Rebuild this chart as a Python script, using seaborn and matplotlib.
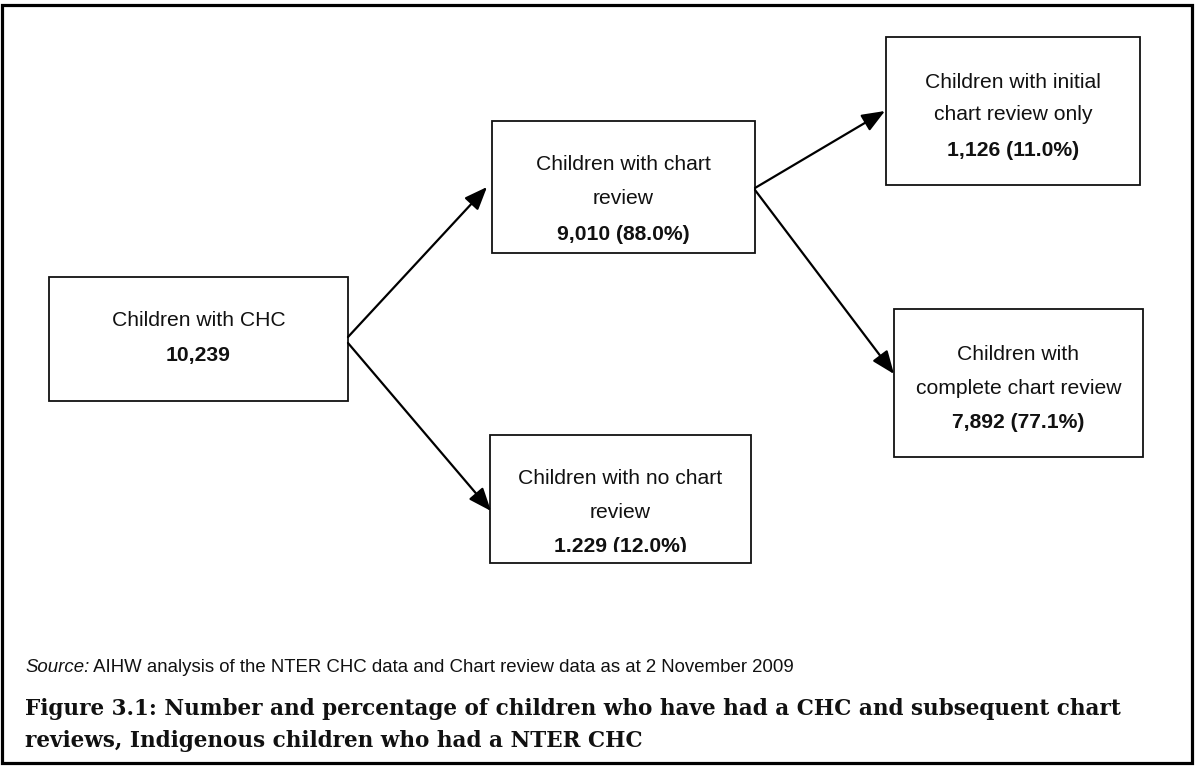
import matplotlib
matplotlib.use("Agg")
import matplotlib.pyplot as plt
import seaborn as sns
from matplotlib.patches import Rectangle
from matplotlib.transforms import Bbox, TransformedBbox

sns.set_theme(style="white")
plt.rcParams['font.family'] = ['Liberation Sans', 'DejaVu Sans']

# ---------------- data ----------------
node_titles = [
    "Children with CHC",
    "Children with chart\nreview",
    "Children with no chart\nreview",
    "Children with initial\nchart review only",
    "Children with\ncomplete chart review",
]
node_counts = ["10,239", "9,010", "1.229", "1,126", "7,892"]
node_pcts = [None, "88.0%", "12.0%", "11.0%", "77.1%"]
edges = [(0, 1), (0, 2), (1, 3), (1, 4)]
source_label = "Source:"
source_text = " AIHW analysis of the NTER CHC data and Chart review data as at 2 November 2009"
caption_lines = [
    "Figure 3.1: Number and percentage of children who have had a CHC and subsequent chart",
    "reviews, Indigenous children who had a NTER CHC",
]

# ---------------- layout (pixels) ----------------
W, H = 1195, 766
box_rects = [(49, 277, 348, 401), (492, 121, 755, 253), (490, 435, 751, 563),
             (886, 37, 1140, 185), (894, 309, 1143, 457)]
text_rows = [[319, 354], [163, 197, 232], [477, 511, 545], [80, 113, 148], [352, 386, 420]]
text_clip_bottom = [None, None, 552, None, None]
edge_points = [((348, 337), (487, 187)), ((348, 343), (491, 511)),
               ((755, 188), (885, 111)), ((755, 190), (894, 374))]

fig = plt.figure(figsize=(W / 100, H / 100), dpi=100)
ax = fig.add_axes([0, 0, 1, 1])
ax.set_xlim(0, W)
ax.set_ylim(H, 0)
ax.axis("off")

# outer frame
ax.add_patch(Rectangle((2.5, 5), 1189.5, 758, fill=False, lw=2.3, ec="black"))

BOX_FS = 15.2
for i, (x0, y0, x1, y1) in enumerate(box_rects):
    ax.add_patch(Rectangle((x0, y0), x1 - x0, y1 - y0, fill=False, lw=1.3, ec="#111111"))
    lines = node_titles[i].split("\n")
    num = node_counts[i] if node_pcts[i] is None else f"{node_counts[i]} ({node_pcts[i]})"
    cx = (x0 + x1) / 2
    rows = text_rows[i]
    for j, ln in enumerate(lines):
        ax.text(cx, rows[j], ln, ha="center", va="center_baseline", fontsize=BOX_FS,
                color="#111111")
    t = ax.text(cx, rows[-1], num, ha="center", va="center_baseline", fontsize=BOX_FS,
                fontweight="bold", color="#111111")
    if text_clip_bottom[i] is not None:
        bb = TransformedBbox(Bbox([[x0, y0], [x1, text_clip_bottom[i]]]), ax.transData)
        t.set_clip_box(bb)
        t.set_clip_on(True)

for (a, b), ((sx, sy), (ex, ey)) in zip(edges, edge_points):
    ax.annotate("", xy=(ex, ey), xytext=(sx, sy),
                arrowprops=dict(arrowstyle="-|>,head_length=0.7,head_width=0.28",
                                lw=1.6, color="black", mutation_scale=20,
                                shrinkA=0, shrinkB=0))

# source line
fig.canvas.draw()
r = fig.canvas.get_renderer()
s1 = ax.text(25, 665, source_label, fontsize=10, style="italic", ha="left",
             va="center_baseline", color="#111111")
s2 = ax.text(25, 665, source_text, fontsize=10, ha="left", va="center_baseline",
             color="#111111")
w1 = s1.get_window_extent(r).width
w2 = s2.get_window_extent(r).width
scale = (797 - 25) / (w1 + w2)
s1.set_fontsize(10 * scale)
s2.set_fontsize(10 * scale)
w1 = s1.get_window_extent(r).width
s2.set_x(25 + w1)

# caption
cap_family = ["DejaVu Serif"]
c1 = ax.text(25, 707, caption_lines[0], fontsize=16, fontweight="bold", ha="left",
             va="center_baseline", family=cap_family, color="#111111")
wc = c1.get_window_extent(r).width
cfs = 16 * (1120 - 25) / wc
c1.set_fontsize(cfs)
ax.text(25, 739, caption_lines[1], fontsize=cfs, fontweight="bold", ha="left",
        va="center_baseline", family=cap_family, color="#111111")

fig.savefig("out.png", dpi=100)
